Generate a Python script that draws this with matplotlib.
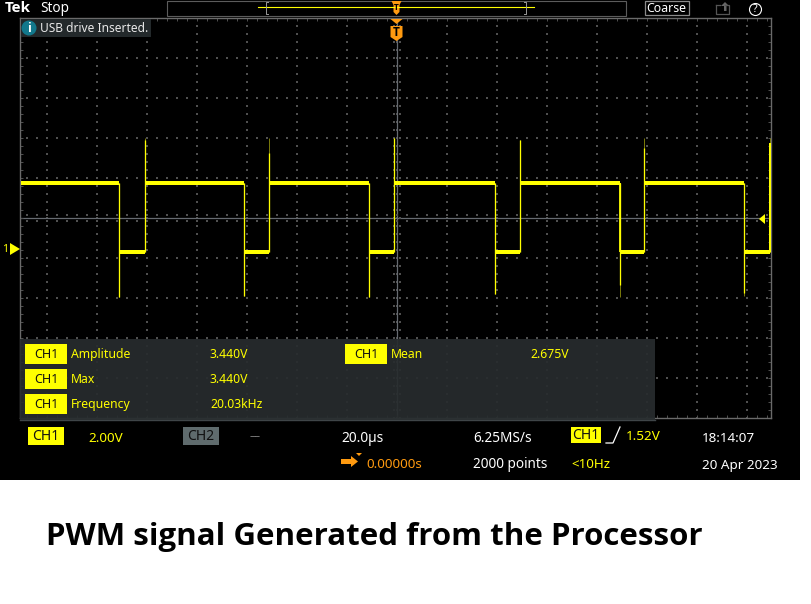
import matplotlib
matplotlib.use('Agg')
import numpy as np
import matplotlib.pyplot as plt
from matplotlib.patches import Rectangle, Polygon, Circle

plt.rcParams['font.family'] = ['Noto Sans', 'DejaVu Sans']

# trace values, time in us, level in volts
fall_t = [-110.9, -60.9, -10.9, 39.2, 89.3, 139.1]
rise_t = [-100.7, -50.9, -0.9, 49.2, 99.1, 149.4]
high_v = 3.26
low_v = -0.2
start_t = -150.3
rise_peak = [5.4, 4.75, 5.5, 5.4, 5.0, 5.25]
rise_peak_dim = [5.5, 5.5, 5.5, 5.4, 5.5, 5.5]
fall_peak = [-2.43, -2.4, -2.43, -2.3, -1.85, -2.25]
fall_peak_dim = [-2.45, -2.4, -2.45, -2.3, -2.45, -2.4]

meas_names = ['Amplitude', 'Max', 'Frequency']
meas_values = ['3.440V', '3.440V', '20.03kHz']
mean_name = 'Mean'
mean_value = '2.675V'

W, H = 811, 604
YEL = '#ffff00'
ORG = '#ff9a10'
GRID = '#505050'

fig = plt.figure(figsize=(W / 100, H / 100), dpi=100, facecolor='white')


def px_axes(left, top, right, bottom, z):
    return fig.add_axes([left / W, 1 - bottom / H, (right - left) / W, (bottom - top) / H], zorder=z)


bg = px_axes(0, 0, W, H, 0)
bg.set_xlim(0, W)
bg.set_ylim(H, 0)
bg.axis('off')
bg.add_patch(Rectangle((0, 0), 800, 480, fc='black', ec='none'))

# scope screen, 20us/div and 2V/div
ax = px_axes(20.3, 18, 771.3, 418, 1)
ax.patch.set_alpha(0)
ax.set_xlim(-150.5, 149.9)
ax.set_ylim(-8.5, 11.5)
for s in ax.spines.values():
    s.set_color('#6a6a6a')
    s.set_linewidth(1.0)
ax.set_xticks(np.arange(-148, 150, 4))
ax.set_yticks(np.arange(-8.5, 11.5, 0.4))
ax.tick_params(which='both', direction='in', length=2, width=0.7, color=GRID,
               top=True, right=True, labelbottom=False, labelleft=False)

# dotted graticule
vx = np.arange(-140, 150, 20)
hy = np.arange(-6.5, 11, 2.0)
hy = hy[np.abs(hy - 1.5) > 0.01]
sx = np.arange(-148, 150, 4)
sy = np.arange(-8.5, 11.5, 0.4)
gx, gy = np.meshgrid(vx, sy)
ax.scatter(gx.ravel(), gy.ravel(), s=0.7, marker='s', c=GRID, linewidths=0, zorder=1)
gx, gy = np.meshgrid(sx, hy)
ax.scatter(gx.ravel(), gy.ravel(), s=0.7, marker='s', c=GRID, linewidths=0, zorder=1)
ax.axhline(1.5, color='#666a70', lw=0.9, zorder=1)
ax.axvline(0, color='#666a70', lw=0.9, zorder=1)
for off in (-0.15, 0.15):
    ax.scatter(sx, np.full(sx.size, 1.5 + off), s=0.7, marker='s', c=GRID, linewidths=0, zorder=1)
for off in (-1.2, 1.2):
    ax.scatter(np.full(sy.size, off), sy, s=0.7, marker='s', c=GRID, linewidths=0, zorder=1)

# PWM trace
px = 0.72
ax.hlines(high_v, start_t, fall_t[0], color=YEL, lw=4 * px, zorder=3)
ax.hlines([high_v] * 5, rise_t[:-1], fall_t[1:], color=YEL, lw=4 * px, zorder=3)
ax.hlines([low_v] * 6, fall_t, rise_t, color=YEL, lw=4 * px, zorder=3)
ax.vlines(rise_t, low_v, rise_peak_dim, color='#77770a', lw=1 * px, zorder=3)
ax.vlines(fall_t, fall_peak_dim, high_v, color='#77770a', lw=1 * px, zorder=3)
ax.vlines(rise_t, low_v, rise_peak, color=YEL, lw=1.3 * px, zorder=4)
ax.vlines(fall_t, fall_peak, high_v, color=YEL, lw=1.3 * px, zorder=4)
ax.vlines(rise_t[-1], low_v, rise_peak[-1], color=YEL, lw=2 * px, zorder=4)
ax.vlines(fall_t[-2], low_v, high_v, color=YEL, lw=1.8 * px, zorder=4)

ui = px_axes(0, 0, W, H, 2)
ui.patch.set_alpha(0)
ui.set_xlim(0, W)
ui.set_ylim(H, 0)
ui.axis('off')


def txt(x, y, s, color='white', size=9, **kw):
    ui.text(x, y, s, color=color, fontsize=size, va='center', ha=kw.pop('ha', 'left'), **kw)


def badge(x0, y0, x1, y1, s, fc=YEL, size=9):
    ui.add_patch(Rectangle((x0, y0), x1 - x0, y1 - y0, fc=fc, ec='none'))
    txt((x0 + x1) / 2, (y0 + y1) / 2 + 0.5, s, color='#101010', size=size, ha='center')


# top bar
txt(4.5, 8, 'Tek', size=11, fontweight='bold', family='Open Sans')
txt(40, 9, 'Stop', size=9.8)
ui.add_patch(Rectangle((166.5, 0.5), 459, 15, fc='none', ec='#5c5c5c', lw=0.8))
ui.plot([258, 534], [7, 7], color=YEL, lw=0.8)
ui.plot([268, 266, 266, 268], [2, 2, 14, 14], color='#999999', lw=0.7)
ui.plot([524, 526, 526, 524], [2, 2, 14, 14], color='#999999', lw=0.7)
ui.add_patch(Polygon([(391.5, 1), (401.5, 1), (399.5, 5), (399.5, 12), (396.5, 15), (393.5, 12), (393.5, 5)], fc=ORG, ec='none'))
txt(396.5, 8, 'T', color='black', size=6, ha='center', fontweight='bold', family='Open Sans')
ui.add_patch(Rectangle((644.5, 1), 44, 14, fc='none', ec='#8a8a8a', lw=0.9))
txt(666.5, 8.5, 'Coarse', size=8.9, ha='center')
ui.plot([715.5, 715.5, 728.5, 728.5, 725], [5, 14, 14, 5, 5], color='#555555', lw=0.9)
ui.plot([715.5, 720], [5, 5], color='#555555', lw=0.9)
ui.add_patch(Polygon([(721, 6), (725, 2), (729, 6), (726.5, 6), (726.5, 11), (724, 11), (724, 6)], fc='#666666', ec='none'))
ui.add_patch(Circle((755.5, 9.5), 6, fc='none', ec='white', lw=0.8))
txt(755.5, 9.5, '?', size=7.5, ha='center')

# trigger marker
ui.add_patch(Polygon([(390.5, 19), (402.5, 19), (396.5, 24)], fc=ORG, ec='none'))
ui.add_patch(Polygon([(390.5, 26), (402.5, 26), (402.5, 37), (396.5, 41), (390.5, 37)], fc=ORG, ec='none'))
txt(396.5, 32.5, 'T', color='black', size=8.5, ha='center', fontweight='bold', family='Open Sans')

# info banner
ui.add_patch(Rectangle((21, 19), 130, 18, fc='#23292b', ec='none'))
ui.add_patch(Circle((29, 28), 7.5, fc='#12788c', ec='none'))
txt(29, 28, 'i', size=9, ha='center', fontweight='bold', family='Open Sans')
txt(40, 28.5, 'USB drive Inserted.', size=8.6, color='#e8e8e8')

# channel and level markers
ui.add_patch(Polygon([(10, 243), (20, 249), (10, 255)], fc=YEL, ec='none'))
txt(2, 249, '1', color=YEL, size=7.5)
ui.add_patch(Polygon([(759, 219), (765, 214), (765, 224)], fc=YEL, ec='none'))

# measurement panel
ui.add_patch(Rectangle((20, 339), 635, 81, fc='#272c2e', ec='none', alpha=0.93))
ui.plot([20, 655], [419.5, 419.5], color='#3f4548', lw=1)
for i in range(3):
    y0 = 344 + 25 * i
    badge(25, y0, 67, y0 + 20, 'CH1', size=9)
    txt(71, y0 + 10.5, meas_names[i], color=YEL, size=8.8)
    txt(210, y0 + 10.5, meas_values[i], color=YEL, size=8.8)
badge(345, 344, 387, 364, 'CH1', size=9)
txt(391, 354.5, mean_name, color=YEL, size=8.8)
txt(530, 354.5, mean_value, color=YEL, size=8.8)

# status bar
badge(28, 427, 64, 445, 'CH1', size=10)
txt(88, 438, '2.00V', color=YEL, size=9.7)
badge(183, 427, 219, 445, 'CH2', fc='#5f6b6d', size=10)
txt(250, 437, '\u2013\u2013', color='#8a8a8a', size=8)
txt(341, 438, '20.0\u00b5s', size=9.9)
txt(473, 438, '6.25MS/s', size=9.8)
badge(571, 427, 601, 443, 'CH1', size=10)
ui.plot([606, 613, 620], [443, 443, 427], color='white', lw=0.9)
txt(626, 436, '1.52V', color=YEL, size=9.7)
txt(702, 438, '18:14:07', size=9.7)

ui.add_patch(Polygon([(341, 459), (351, 459), (351, 456), (358, 461.5), (351, 467), (351, 464), (341, 464)], fc=ORG, ec='none'))
ui.add_patch(Polygon([(356, 453), (362, 453), (359, 456)], fc=ORG, ec='none'))
txt(366, 464.5, '0.00000s', color=ORG, size=9.7)
txt(473, 464.5, '2000 points', size=9.8)
txt(571, 464.5, '<10Hz', color=YEL, size=9.7)
txt(702, 465.5, '20 Apr 2023', size=9.7)

# caption
ui.text(46, 545, 'PWM signal Generated from the Processor', color='black', fontsize=22.5,
        fontweight='bold', va='baseline', ha='left', family='Open Sans')

fig.savefig('out.png', dpi=100, facecolor='white')
